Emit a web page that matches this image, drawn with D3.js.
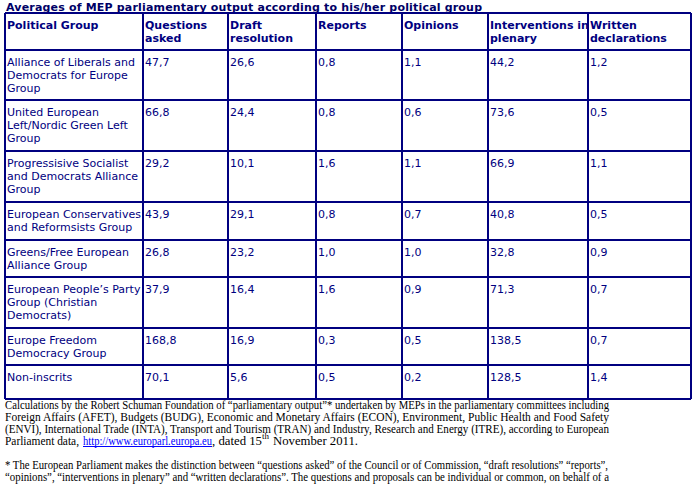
<!DOCTYPE html>
<html><head><meta charset="utf-8">
<script src="https://cdn.jsdelivr.net/npm/d3@7"></script>
<style>
html,body{margin:0;padding:0;background:#fff;}
svg{display:block;}
</style></head>
<body>
<svg id="c" width="696" height="490"></svg>
<script>
// ---------- data ----------
const title = "Averages of MEP parliamentary output according to his/her political group";
const headers = [["Political Group"],["Questions","asked"],["Draft","resolution"],["Reports"],["Opinions"],["Interventions in","plenary"],["Written","declarations"]];
const groups = [
  ["Alliance of Liberals and","Democrats for Europe","Group"],
  ["United European","Left/Nordic Green Left","Group"],
  ["Progressisive Socialist","and Democrats Alliance","Group"],
  ["European Conservatives","and Reformsists Group"],
  ["Greens/Free European","Alliance Group"],
  ["European People’s Party","Group (Christian","Democrats)"],
  ["Europe Freedom","Democracy Group"],
  ["Non-inscrits"]
];
const questionsAsked   = [47.7, 66.8, 29.2, 43.9, 26.8, 37.9, 168.8, 70.1];
const draftResolution  = [26.6, 24.4, 10.1, 29.1, 23.2, 16.4, 16.9, 5.6];
const reports          = [0.8, 0.8, 1.6, 0.8, 1.0, 1.6, 0.3, 0.5];
const opinions         = [1.1, 0.6, 1.1, 0.7, 1.0, 0.9, 0.5, 0.2];
const interventions    = [44.2, 73.6, 66.9, 40.8, 32.8, 71.3, 138.5, 128.5];
const writtenDecl      = [1.2, 0.5, 1.1, 0.5, 0.9, 0.7, 0.7, 1.4];
const footLines = [
  "Calculations by the Robert Schuman Foundation of “parliamentary output”* undertaken by MEPs in the parliamentary committees including",
  "Foreign Affairs (AFET), Budgets (BUDG), Economic and Monetary Affairs (ECON), Environment, Public Health and Food Safety",
  "(ENVI),  International Trade (INTA), Transport and Tourism (TRAN) and Industry, Research and Energy (ITRE), according to European"
];
const footLink = ["Parliament data,", "http://www.europarl.europa.eu", ", dated 15", "th", "November 2011."];
const noteLines = [
  "* The European Parliament makes the distinction between “questions asked” of the Council or of Commission, “draft resolutions” “reports”,",
  "“opinions”, “interventions in plenary” and “written declarations”. The questions and proposals can be individual or common, on behalf of a"
];

// ---------- layout ----------
const NAVY = "#000080";
const cellFont = "'DejaVu Sans', Verdana, sans-serif";
const colKeys = ["group","q","d","r","o","i","w"];
const colEdges = [5, 143, 228, 316, 402, 488, 588, 691];
const rowEdges = [13, 50, 100, 151, 202, 240, 277, 328, 365, 399];
const series = [questionsAsked, draftResolution, reports, opinions, interventions, writtenDecl];
const fmt = v => d3.format(".1f")(v).replace(".", ",");

const x = d3.scaleOrdinal().domain(colKeys).range(colEdges.slice(0, -1));
const rowKeys = d3.range(groups.length + 1);
const y = d3.scaleOrdinal().domain(rowKeys).range(rowEdges.slice(0, -1));

const svg = d3.select("#c");

// title
svg.append("text").attr("x", 6).attr("y", 10.5)
  .attr("font-family", cellFont).attr("font-size", 11).attr("font-weight", "bold")
  .attr("textLength", 476).attr("lengthAdjust", "spacing")
  .attr("fill", "#000066").text(title);

// table rows data
const rows = [{lines: headers.map(h => h), bold: true}].concat(
  groups.map((g, i) => ({lines: [g].concat(series.map(s => [fmt(s[i])])), bold: false}))
);

const g = svg.append("g");
rows.forEach((row, ri) => {
  row.lines.forEach((lines, ci) => {
    const t = g.append("text")
      .attr("font-family", cellFont).attr("font-size", 11)
      .attr("font-weight", row.bold ? "bold" : "normal")
      .attr("fill", NAVY);
    lines.forEach((ln, li) => {
      t.append("tspan").attr("x", x(colKeys[ci]) + 2).attr("y", y(ri) + 16 + li * 13).text(ln);
    });
  });
});

// grid lines
const gl = svg.append("g").attr("stroke", NAVY).attr("stroke-width", 1.3).attr("shape-rendering", "crispEdges");
rowEdges.forEach(yy => gl.append("line").attr("x1", colEdges[0]).attr("x2", colEdges[colEdges.length-1]).attr("y1", yy).attr("y2", yy));
colEdges.forEach(xx => gl.append("line").attr("x1", xx).attr("x2", xx).attr("y1", rowEdges[0]).attr("y2", rowEdges[rowEdges.length-1]));

// footnotes
const serif = "'Liberation Serif', 'Times New Roman', serif";
const footBase = [409, 421, 433];
footLines.forEach((ln, i) => {
  svg.append("text").attr("x", 5).attr("y", footBase[i])
    .attr("font-family", serif).attr("font-size", 12.5).attr("fill", "#000")
    .attr("textLength", 604).attr("lengthAdjust", "spacingAndGlyphs").text(ln);
});
// line 4 with link
const l4 = [
  {t: footLink[0], x0: 5,   x1: 79,  link: false, sup: false},
  {t: footLink[1], x0: 83,  x1: 212, link: true,  sup: false},
  {t: footLink[2], x0: 212, x1: 262, link: false, sup: false},
  {t: footLink[3], x0: 262, x1: 269, link: false, sup: true},
  {t: footLink[4], x0: 273, x1: 358, link: false, sup: false}
];
l4.forEach(s => {
  svg.append("text").attr("x", s.x0).attr("y", s.sup ? 439 : 445)
    .attr("font-family", serif).attr("font-size", s.sup ? 7.5 : 12.5)
    .attr("fill", s.link ? "#0000ff" : "#000")
    .attr("textLength", s.x1 - s.x0).attr("lengthAdjust", "spacingAndGlyphs")
    .text(s.t);
  if (s.link) svg.append("line").attr("x1", s.x0).attr("x2", s.x1).attr("y1", 446.5).attr("y2", 446.5)
    .attr("stroke", "#0000ff").attr("stroke-width", 1);
});
const noteBase = [469, 481];
noteLines.forEach((ln, i) => {
  svg.append("text").attr("x", 5).attr("y", noteBase[i])
    .attr("font-family", serif).attr("font-size", 12.5).attr("fill", "#000")
    .attr("textLength", i === 0 ? 603 : 604).attr("lengthAdjust", "spacingAndGlyphs").text(ln);
});
</script>
</body></html>
